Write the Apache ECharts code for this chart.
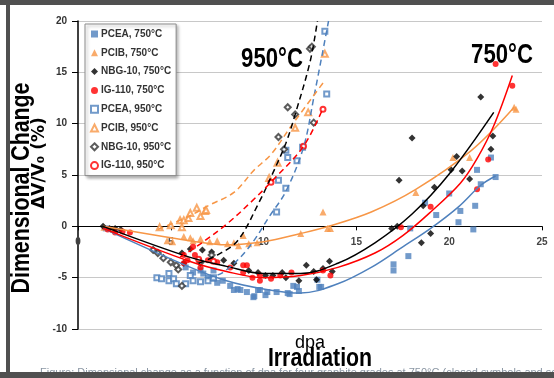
<!DOCTYPE html>
<html>
<head>
<meta charset="utf-8">
<script src="https://cdn.jsdelivr.net/npm/echarts@6/dist/echarts.min.js"></script>
<style>
  html, body { margin: 0; padding: 0; background: #fff; }
  #chart { width: 554px; height: 378px; }
</style>
</head>
<body>
<div id="chart"></div>
<script>
// points: [dpa, dV/V0 %]
const pcea750 = [[1.5,-0.2],[2.0,-0.4],[5.8,-4.0],[6.2,-4.5],[6.6,-4.3],[6.75,-4.6],[7.0,-5.0],[7.3,-4.3],[7.3,-5.1],[7.5,-5.5],[7.8,-5.3],[8.2,-5.8],[8.4,-6.2],[8.6,-6.1],[8.75,-6.2],[9.1,-6.4],[9.45,-6.9],[9.5,-6.8],[9.7,-6.2],[9.8,-6.2],[10.1,-6.7],[10.2,-6.4],[10.7,-6.4],[11.3,-6.5],[11.4,-6.6],[11.6,-5.8],[11.8,-5.9],[11.9,-6.3],[13.0,-5.9],[13.1,-5.9],[12.9,-5.2],[17.0,-3.7],[17.0,-4.3],[17.8,-2.9],[17.9,-0.2],[18.7,2.3],[19.3,1.1],[20.0,3.2],[20.5,0.4],[20.6,1.5],[21.3,-0.3],[21.4,2.0],[21.5,5.5],[21.7,4.1],[22.25,6.7],[22.5,4.8]];
const pcib750 = [[1.4,-0.1],[1.9,-0.3],[4.8,-1.4],[5.1,-1.5],[5.7,-1.0],[6.05,-1.1],[6.2,-1.4],[6.6,-1.2],[7.1,-1.5],[7.5,-1.4],[8.05,-1.7],[8.4,-1.6],[8.65,-1.9],[8.9,-0.9],[9.2,-1.7],[9.65,-1.6],[12.0,-0.7],[13.2,1.4],[13.45,-0.2],[13.6,-0.2],[18.2,3.3],[20.2,6.7],[21.1,6.7],[23.5,11.6],[23.6,11.4]];
const nbg750 = [[1.35,0],[1.7,-0.2],[2.0,-0.2],[2.3,-0.3],[5.6,-2.6],[5.7,-3.6],[6.05,-2.2],[6.7,-2.3],[7.2,-2.5],[7.85,-3.3],[8.4,-3.6],[9.2,-4.3],[9.7,-4.5],[10.1,-4.8],[10.5,-4.8],[11.0,-4.5],[11.2,-5.0],[11.9,-5.3],[12.3,-3.8],[12.7,-4.4],[12.85,-5.2],[13.2,-4.1],[13.55,-3.4],[13.7,-4.4],[16.9,-0.2],[17.2,0],[17.3,4.5],[18.0,8.6],[18.5,-1.6],[18.6,2.0],[19.0,-0.7],[19.2,3.8],[20.1,5.5],[20.4,6.8],[20.7,5.4],[21.1,4.6],[21.7,12.6],[22.25,7.5],[22.35,8.8]];
const ig750 = [[1.6,-0.3],[2.0,-0.6],[2.4,-0.5],[2.8,-0.6],[5.7,-2.8],[5.7,-3.6],[5.9,-3.3],[6.2,-2.0],[6.3,-2.8],[6.6,-4.0],[7.0,-3.3],[7.5,-3.5],[8.2,-4.0],[8.9,-3.8],[8.9,-4.5],[9.1,-3.8],[9.4,-5.0],[9.8,-4.8],[9.8,-5.3],[10.4,-5.1],[10.9,-4.8],[11.5,-4.5],[13.2,-4.3],[13.6,-4.8],[17.4,-0.1],[19.0,1.9],[21.5,3.6],[22.1,6.5],[22.5,15.8],[23.4,13.7]];
const pcea950 = [[4.25,-5.0],[4.5,-5.1],[4.9,-5.3],[4.9,-4.6],[5.15,-5.1],[5.3,-5.6],[5.8,-5.6],[6.05,-4.8],[6.2,-5.3],[6.6,-5.4],[7.0,-5.3],[7.3,-5.0],[10.7,1.4],[10.8,4.5],[11.2,3.7],[11.2,7.4],[11.3,6.7],[11.8,6.4],[12.1,7.7],[13.4,12.9],[13.3,19.0]];
const pcib950 = [[4.4,-0.1],[5.0,0.1],[5.5,0.6],[5.6,-0.1],[5.7,0.6],[5.95,0.8],[6.05,1.3],[6.4,1.8],[6.6,1.0],[6.85,1.5],[6.9,1.6],[10.3,4.7],[10.75,6.2],[11.7,9.6],[12.4,11.1],[13.3,16.8]];
const nbg950 = [[4.05,-2.3],[4.3,-2.6],[4.6,-3.1],[5.0,-3.5],[5.3,-3.8],[5.4,-4.2],[5.6,-5.8],[6.6,-3.5],[7.2,-2.8],[10.8,8.7],[11.1,7.5],[11.3,11.6],[11.7,10.9],[12.7,10.1],[12.5,17.3],[12.6,17.5]];
const ig950 = [[6.5,-3.2],[7.3,-3.4],[10.4,4.3],[12.15,7.8],[13.2,11.4]];

// trend curves
const pcea750Fit = [[1.35,-0.2],[5.8,-3.8],[8,-5.3],[10,-6.1],[12,-6.5],[14,-5.6],[15.8,-4.0],[17.5,-2.0],[19,-0.2],[20.5,1.9],[21.7,4.0],[22.5,4.9]];
const pcib750Fit = [[1.35,0],[6,-1.4],[8,-1.8],[10,-1.5],[12,-0.7],[13.5,0],[15.8,1.4],[18.2,3.6],[21.2,7.4],[23.5,11.6]];
const nbg750Fit = [[1.35,0],[6,-3.0],[8,-3.9],[10,-4.6],[12,-4.6],[14,-3.6],[16,-1.6],[18,1.2],[20,5.1],[22.4,11.1]];
const ig750Fit = [[1.35,-0.2],[6,-3.4],[8,-4.4],[10,-5.0],[12,-4.8],[14,-4.0],[16,-2.6],[17.5,-0.9],[19,1.4],[20.6,4.2],[21.5,6.6],[22.4,9.8],[23.4,14.7]];
const pcea950Fit = [[7.0,-5.0],[7.8,-4.5],[9.1,-2.3],[10.4,1.2],[11.2,3.4],[12.15,7.7],[12.7,12.5],[13.5,20]];
const pcib950Fit = [[4.3,-0.3],[6,1.0],[7,2.0],[8.4,3.3],[9.5,5.5],[10.4,7.0],[11.5,9.8],[13.3,14.2]];
const nbg950Fit = [[6.5,-3.6],[7.5,-2.8],[8.6,-1.4],[9.8,2.5],[10.4,4.8],[11.2,8.1],[11.7,10.9],[12.5,16.0],[12.9,20]];
const ig950Fit = [[5.5,-3.0],[6.6,-1.7],[8,0.2],[9.4,2.5],[10.5,4.5],[12.15,7.8],[13.2,11.5]];

const xMin = 0, xMax = 25, xStep = 5;
const yMin = -10, yMax = 20, yStep = 5;

const BLUE = '#4f81bd', ORANGE = '#f79646', BLACK = '#000000', RED = '#ff0000';
const arial = '"Liberation Sans", Arial, sans-serif';

var myChart = echarts.init(document.getElementById('chart'));

const gridTop = 21, gridBottom = 49, chartH = 378;
// x axis sits on y = 0, so shift it up from the bottom of the grid
const plotH = chartH - gridTop - gridBottom;
const xAxisOffset = -plotH * (0 - yMin) / (yMax - yMin);

const scatter = [
  { name: 'PCEA, 750°C', data: pcea750, symbol: 'rect', symbolSize: 6, color: BLUE },
  { name: 'PCIB, 750°C', data: pcib750, symbol: 'triangle', symbolSize: 7, color: ORANGE },
  { name: 'NBG-10, 750°C', data: nbg750, symbol: 'diamond', symbolSize: 7, color: BLACK },
  { name: 'IG-110, 750°C', data: ig750, symbol: 'circle', symbolSize: 6, color: RED },
  { name: 'PCEA, 950°C', data: pcea950, symbol: 'emptyRect', symbolSize: 5, color: BLUE },
  { name: 'PCIB, 950°C', data: pcib950, symbol: 'emptyTriangle', symbolSize: 6, color: ORANGE },
  { name: 'NBG-10, 950°C', data: nbg950, symbol: 'emptyDiamond', symbolSize: 6, color: '#333' },
  { name: 'IG-110, 950°C', data: ig950, symbol: 'emptyCircle', symbolSize: 5, color: RED },
].map(s => ({
  type: 'scatter',
  name: s.name,
  data: s.data,
  symbol: s.symbol,
  symbolSize: s.symbolSize,
  itemStyle: { color: s.color, borderWidth: 1 },
  z: 3
}));

const fits = [
  { data: pcea750Fit, color: BLUE, dash: 'solid' },
  { data: pcib750Fit, color: ORANGE, dash: 'solid' },
  { data: nbg750Fit, color: BLACK, dash: 'solid' },
  { data: ig750Fit, color: RED, dash: 'solid' },
  { data: pcea950Fit, color: BLUE, dash: [6, 4] },
  { data: pcib950Fit, color: ORANGE, dash: [6, 4] },
  { data: nbg950Fit, color: BLACK, dash: [6, 4] },
  { data: ig950Fit, color: RED, dash: [6, 4] },
].map((f, i) => ({
  type: 'line',
  name: 'fit' + i,
  data: f.data,
  smooth: 0.35,
  showSymbol: false,
  silent: true,
  clip: true,
  lineStyle: { color: f.color, width: 1.5, type: f.dash },
  z: 4
}));

// text helper for the big labels (narrow look: Arial squeezed horizontally)
function label(text, x, y, font, opts) {
  return Object.assign({
    type: 'text', x: x, y: y, z: 10,
    style: { text: text, font: font, fill: '#000', align: 'center', verticalAlign: 'middle', textAlign: 'center', textVerticalAlign: 'middle' }
  }, opts || {});
}

var option = {
  animation: false,
  backgroundColor: '#fff',
  grid: { left: 78, right: 12, top: gridTop, bottom: gridBottom },
  legend: {
    data: scatter.map(s => s.name),
    orient: 'vertical',
    left: 85,
    top: 24,
    padding: [3, 5, 3, 5],
    itemWidth: 7,
    itemHeight: 7,
    itemGap: 4.8,
    backgroundColor: '#fff',
    borderColor: '#8c8c8c',
    borderWidth: 1,
    shadowBlur: 3,
    shadowOffsetX: 2,
    shadowOffsetY: 2,
    shadowColor: 'rgba(0,0,0,0.3)',
    textStyle: { fontFamily: arial, fontSize: 10, fontWeight: 'bold', color: '#333', lineHeight: 14, padding: [0, 0, 0, -2] }
  },
  xAxis: {
    type: 'value',
    min: xMin, max: xMax, interval: xStep,
    offset: xAxisOffset,
    axisLine: { onZero: false, lineStyle: { color: '#000', width: 1 } },
    axisTick: { show: true, length: 4, lineStyle: { color: '#000' } },
    splitLine: { show: false },
    axisLabel: { fontFamily: arial, fontSize: 10, fontWeight: 'bold', color: '#444', margin: 11 }
  },
  yAxis: {
    type: 'value',
    min: yMin, max: yMax, interval: yStep,
    axisLine: { show: true, lineStyle: { color: '#000', width: 1.5 } },
    axisTick: { show: true, length: 6, lineStyle: { color: '#000' } },
    splitLine: { show: true, lineStyle: { color: '#c8c8c8', width: 1 } },
    axisLabel: { fontFamily: arial, fontSize: 10, fontWeight: 'bold', color: '#333', margin: 11 }
  },
  graphic: [
    label('950°C', 272, 60, 'bold 27px ' + arial, { scaleX: 0.82 }),
    label('750°C', 502, 56, 'bold 27px ' + arial, { scaleX: 0.82, z: 2 }),
    label('Dimensional Change', 22, 188, 'bold 26px ' + arial, { rotation: Math.PI / 2, scaleX: 0.82 }),
    label('ΔV/V₀ (%)', 40, 163, 'bold 17px "DejaVu Sans", sans-serif', { rotation: Math.PI / 2 }),
    label('dpa', 310, 343, '18px ' + arial),
    label('Irradiation', 320, 359, 'bold 26px ' + arial, { scaleX: 0.82 }),
    // cut-off caption under the frame
    { type: 'text', x: 40, y: 367, style: { text: 'Figure: Dimensional change as a function of dpa for four graphite grades at 750°C (closed symbols and solid lines) and 950°C (open symbols and dashed lines)', font: '11px ' + arial, fill: '#8a96a3' } },
    // dark frame
    { type: 'rect', shape: { x: 0, y: 0, width: 554, height: 5 }, style: { fill: '#505050' }, z: 20 },
    { type: 'rect', shape: { x: 6, y: 0, width: 4, height: 378 }, style: { fill: '#505050' }, z: 20 },
    { type: 'rect', shape: { x: 0, y: 372, width: 554, height: 6 }, style: { fill: '#505050' }, z: 20 }
  ],
  series: [...fits, ...scatter]
};

myChart.setOption(option);
</script>
</body>
</html>
